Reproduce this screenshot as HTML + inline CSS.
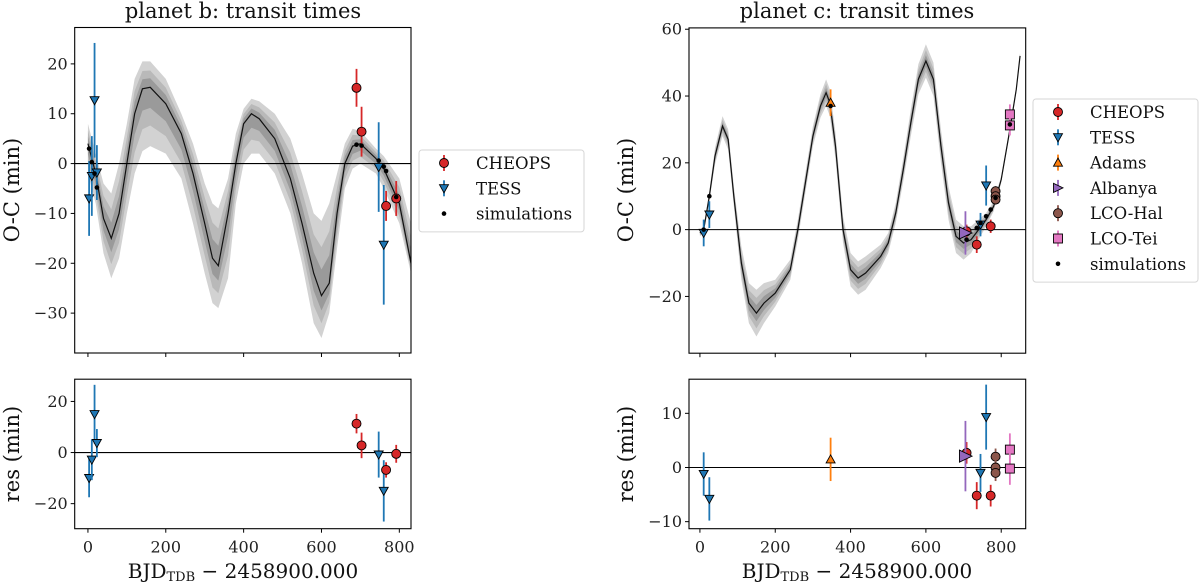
<!DOCTYPE html>
<html><head><meta charset="utf-8"><style>
html,body{margin:0;padding:0;background:#fff;}
svg{display:block;font-family:"DejaVu Serif","Liberation Serif",serif;}
</style></head><body>
<svg id="fig" width="1200" height="583" viewBox="0 0 1200 583" xmlns="http://www.w3.org/2000/svg"></svg>
<script>
// ---------- planet b data ----------
const bModelX = [0,20,40,60,80,100,120,140,160,200,240,270,300,320,335,360,380,400,420,440,480,520,550,580,600,620,640,660,680,700,740,760,800,830];
const bModelY = [4,-2,-11,-15,-10,0,10,15,15.3,12,6,-2,-12,-19,-20.5,-10,0,8,10,9,5,-3,-12,-22,-26.5,-24,-10,0,3.5,4,1,-1,-8,-20];
const bBandLo = [-2,-8,-18,-23,-19,-10,-2,2.5,3.5,2,-3,-12,-22,-28,-29,-23,-8,0,2,2,-2,-10,-20,-32,-35,-30,-17,-5,-1,0,-2,-5,-12,-22];
const bBandHi = [8,2,-4,-6,0,8,17,20.5,20.5,17,10,4,-4,-8,-9,-3,6,11,13,12.5,10,5,-2,-10,-11.5,-8,-2,4,7,6.5,3,1.5,-3,-12];
const bTessX = [3,10,17,23,747,760];
const bTessY = [-7,-2.5,12.7,-1.8,-0.7,-16.3];
const bTessE = [7.5,8,11.5,5.5,9,12];
const bTessRes = [-10,-2.8,15,3.7,-0.8,-15];
const bCheopsX = [690,703,766,792];
const bCheopsY = [15.2,6.4,-8.5,-7];
const bCheopsE = [3.8,5,3,3.5];
const bCheopsRes = [11.3,2.8,-6.8,-0.5];
const bSimX = [3,10,17,23,690,703,747,760,766,792];
const bSimY = [3,0.3,-2,-4.8,3.8,3.6,0.6,-0.6,-1.5,-6.7];
const bMainTicks = [20,10,0,-10,-20,-30];
const bResTicks = [20,0,-20];
// ---------- planet c data ----------
const cModelX = [0,10,25,40,60,75,90,100,110,130,150,170,200,240,260,280,300,320,335,345,360,380,400,420,440,480,500,520,540,560,580,600,620,640,660,680,700,720,740,760,780,800,820,840,850];
const cModelY = [-1,0,10,22,31,27,10,0,-10,-22,-25,-22,-19,-12,0,14,28,37,41,38,25,0,-12,-14.5,-13,-8,-4,5,18,32,45,50.5,45,25,8,-2,-4,-3,0,3,7,15,28,42,52];
const cBandW = [1,1,1.5,2.5,3,3,3,4,5,6,7,6,4,3,3,3,3,3.5,4,4,4,4,5,5,5,3.5,3,3,3.5,4,4.5,5,5,5,5,5,5,4,3,2,1.5,1,1,1,1];
const cTessX = [10,25,745,760];
const cTessY = [-1,4.5,1.5,13.2];
const cTessE = [4,4,3.5,6];
const cTessRes = [-1.2,-5.8,-1,9.3];
const cCheopsX = [708,735,772];
const cCheopsY = [-0.5,-4.5,1];
const cCheopsE = [2,2.5,2];
const cCheopsRes = [2.7,-5.2,-5.2];
const cAdamsX = [347];
const cAdamsY = [38];
const cAdamsE = [4];
const cAdamsRes = [1.5];
const cAlbX = [705];
const cAlbY = [-1];
const cAlbE = [6.5];
const cAlbRes = [2.1];
const cHalX = [785,785,785];
const cHalY = [11.5,10,9];
const cHalE = [1.5,1.5,1.5];
const cHalRes = [2,0,-1];
const cTeiX = [823,823];
const cTeiY = [34.5,31.2];
const cTeiE = [3,3];
const cTeiRes = [3.3,-0.2];
const cSimX = [10,25,347,708,735,745,760,772,785,823];
const cSimY = [0,10,37,-3,0.5,2,4,6,9.5,31.5];
const cMainTicks = [60,40,20,0,-20];
const cResTicks = [10,0,-10];
const xTicks = [0,200,400,600,800];

const NS="http://www.w3.org/2000/svg";
const svg=document.getElementById('fig');
function mk(tag,attrs,parent){const e=document.createElementNS(NS,tag);for(const k in attrs)e.setAttribute(k,attrs[k]);(parent||svg).appendChild(e);return e;}
function axis(x0,x1,xmin,xmax,y0,y1,ymin,ymax){
  return {x:v=>x0+(v-xmin)/(xmax-xmin)*(x1-x0), y:v=>y1-(v-ymin)/(ymax-ymin)*(y1-y0), x0,x1,y0,y1};
}
const C={cheops:'#d62728',tess:'#1f77b4',adams:'#ff7f0e',alb:'#9467bd',hal:'#8c564b',tei:'#e377c2'};

function marker(g,type,cx,cy,col,s){
  let m;
  if(type==='o') m=mk('circle',{cx,cy,r:s,fill:col,stroke:'#000','stroke-width':0.9},g);
  else if(type==='v') m=mk('polygon',{points:`${cx-s},${cy-s*0.8} ${cx+s},${cy-s*0.8} ${cx},${cy+s}`,fill:col,stroke:'#000','stroke-width':0.9},g);
  else if(type==='^') m=mk('polygon',{points:`${cx-s},${cy+s*0.8} ${cx+s},${cy+s*0.8} ${cx},${cy-s}`,fill:col,stroke:'#000','stroke-width':0.9},g);
  else if(type==='>') m=mk('polygon',{points:`${cx-s},${cy-s} ${cx-s},${cy+s} ${cx+s*1.1},${cy}`,fill:col,stroke:'#000','stroke-width':0.9},g);
  else if(type==='s') m=mk('rect',{x:cx-s,y:cy-s,width:2*s,height:2*s,fill:col,stroke:'#000','stroke-width':0.9},g);
  return m;
}
function series(ax,name,type,col,xs,ys,es,size){
  const g=mk('g',{});
  
  
  for(let i=0;i<xs.length;i++){
    const cx=ax.x(xs[i]),cy=ax.y(ys[i]);
    const l=mk('line',{x1:cx,x2:cx,y1:ax.y(ys[i]+es[i]),y2:ax.y(ys[i]-es[i]),stroke:col,'stroke-width':1.8},g);
    
    
    const m=marker(g,type,cx,cy,col,size||4.5);
    
    
  }
}
function sims(ax,xs,ys){
  const g=mk('g',{});
  
  
  for(let i=0;i<xs.length;i++){
    const d=mk('circle',{cx:ax.x(xs[i]),cy:ax.y(ys[i]),r:2.3,fill:'#000'},g);
    
    
  }
}
function frame(ax,name,yticks,xlabels){
  const g=mk('g',{});
  
  
  mk('rect',{x:ax.x0,y:ax.y0,width:ax.x1-ax.x0,height:ax.y1-ax.y0,fill:'none',stroke:'#000','stroke-width':1.1},g);
  yticks.forEach(t=>{
    const y=ax.y(t);
    mk('line',{x1:ax.x0-4,x2:ax.x0,y1:y,y2:y,stroke:'#000','stroke-width':1},g);
    const tx=mk('text',{x:ax.x0-7,y:y+5.5,'text-anchor':'end','font-size':16,fill:'#222'},g);
    tx.textContent=(t<0?'\u2212'+(-t):t);
    
    
  });
  xTicks.forEach(t=>{
    const x=ax.x(t);
    mk('line',{x1:x,x2:x,y1:ax.y1,y2:ax.y1+4,stroke:'#000','stroke-width':1},g);
    if(xlabels){
      const tx=mk('text',{x:x,y:ax.y1+24,'text-anchor':'middle','font-size':16,fill:'#222'},g);
      tx.textContent=t;
      
      
    }
  });
}
function zeroLine(ax){
  const l=mk('line',{x1:ax.x0,x2:ax.x1,y1:ax.y(0),y2:ax.y(0),stroke:'#000','stroke-width':1.1});
  
  
}
function clip(ax,id){
  const cp=mk('clipPath',{id});
  mk('rect',{x:ax.x0,y:ax.y0,width:ax.x1-ax.x0,height:ax.y1-ax.y0},cp);
}
function band(ax,xs,lo,hi,fill,name,clipId){
  let d='M'+xs.map((v,i)=>ax.x(v)+','+ax.y(hi[i])).join('L');
  for(let i=xs.length-1;i>=0;i--) d+='L'+ax.x(xs[i])+','+ax.y(lo[i]);
  const p=mk('path',{d:d+'Z',fill,'clip-path':`url(#${clipId})`});
  
  
}
function line(ax,xs,ys,clipId){
  const p=mk('path',{d:'M'+xs.map((v,i)=>ax.x(v)+','+ax.y(ys[i])).join('L'),fill:'none',stroke:'#111','stroke-width':1.2,'clip-path':`url(#${clipId})`});
  
  
}
function bands(ax,xs,my,lo,hi,clipId){
  const f=[1,0.65,0.35],cols=['#d2d2d2','#b9b9b9','#9a9a9a'];
  f.forEach((k,j)=>{
    band(ax,xs,my.map((m,i)=>m+k*(lo[i]-m)),my.map((m,i)=>m+k*(hi[i]-m)),cols[j],'model-band-'+(j+1),clipId);
  });
}
function txt(x,y,s,size,name,anchor,rot){
  const t=mk('text',{x,y,'font-size':size,'text-anchor':anchor||'middle',fill:'#111'});
  if(rot) t.setAttribute('transform',`rotate(-90 ${x} ${y})`);
  t.textContent=s;
  
  
  return t;
}
function xlabel(cx){
  const t=mk('text',{x:cx,y:578,'font-size':20,'text-anchor':'middle',fill:'#111'});
  
  
  const a=mk('tspan',{},t);a.textContent='BJD';
  const b=mk('tspan',{'font-size':13,dy:3},t);b.textContent='TDB';
  const c=mk('tspan',{dy:-3},t);c.textContent=' \u2212 2458900.000';
}
function legend(x,y,w,items,name){
  const g=mk('g',{});
  
  
  const h=items.length*25.3+6;
  mk('rect',{x,y,width:w,height:h,rx:3,fill:'#fff',stroke:'#d6d6d6','stroke-width':1},g);
  items.forEach((it,i)=>{
    const cy=y+13+i*25.3;
    const cx=x+25;
    const e=mk('g',{},g);
    
    
    if(it[1]==='dot') mk('circle',{cx,cy,r:2.3,fill:'#000'},e);
    else{ mk('line',{x1:cx,x2:cx,y1:cy-8,y2:cy+8,stroke:it[2],'stroke-width':1.8},e); marker(e,it[1],cx,cy,it[2],4.5);}
    const t=mk('text',{x:x+57,y:cy+6,'font-size':16.5,fill:'#111'},e);t.textContent=it[0];
  });
}

// ---------- planet b ----------
const bM=axis(74.7,411,-34,830,27.5,353,-38,27.3);
const bR=axis(74.7,411,-34,830,379.2,528.7,-29.8,28.7);
clip(bM,'cbm');clip(bR,'cbr');
bands(bM,bModelX,bModelY,bBandLo,bBandHi,'cbm');
line(bM,bModelX,bModelY,'cbm');
zeroLine(bM);
series(bM,'b-tess','v',C.tess,bTessX,bTessY,bTessE);
series(bM,'b-cheops','o',C.cheops,bCheopsX,bCheopsY,bCheopsE);
sims(bM,bSimX,bSimY);
frame(bM,'b-main-axes',bMainTicks,false);
zeroLine(bR);
series(bR,'b-tess-res','v',C.tess,bTessX,bTessRes,bTessE);
series(bR,'b-cheops-res','o',C.cheops,bCheopsX,bCheopsRes,bCheopsE);
frame(bR,'b-res-axes',bResTicks,true);
txt(243,18,'planet b: transit times',21,'b-title');
txt(19,190,'O-C (min)',21,'b-y-axis-title','middle',true);
txt(19,454,'res (min)',21,'b-res-y-axis-title','middle',true);
xlabel(243);
legend(419,150,165,[['CHEOPS','o',C.cheops],['TESS','v',C.tess],['simulations','dot']],'b-legend');

// ---------- planet c ----------
const cM=axis(689,1025.7,-29,865,27.9,353.2,-37,60.4);
const cR=axis(689,1025.7,-29,865,379.2,528.7,-11.3,16.3);
clip(cM,'ccm');clip(cR,'ccr');
bands(cM,cModelX,cModelY,cModelY.map((m,i)=>m-cBandW[i]),cModelY.map((m,i)=>m+cBandW[i]),'ccm');
line(cM,cModelX,cModelY,'ccm');
zeroLine(cM);
series(cM,'c-cheops','o',C.cheops,cCheopsX,cCheopsY,cCheopsE);
series(cM,'c-tess','v',C.tess,cTessX,cTessY,cTessE);
series(cM,'c-adams','^',C.adams,cAdamsX,cAdamsY,cAdamsE);
series(cM,'c-albanya','>',C.alb,cAlbX,cAlbY,cAlbE,6);
series(cM,'c-lco-hal','o',C.hal,cHalX,cHalY,cHalE);
series(cM,'c-lco-tei','s',C.tei,cTeiX,cTeiY,cTeiE);
sims(cM,cSimX,cSimY);
frame(cM,'c-main-axes',cMainTicks,false);
zeroLine(cR);
series(cR,'c-cheops-res','o',C.cheops,cCheopsX,cCheopsRes,cCheopsE);
series(cR,'c-tess-res','v',C.tess,cTessX,cTessRes,cTessE);
series(cR,'c-adams-res','^',C.adams,cAdamsX,cAdamsRes,cAdamsE);
series(cR,'c-albanya-res','>',C.alb,cAlbX,cAlbRes,cAlbE,6);
series(cR,'c-lco-hal-res','o',C.hal,cHalX,cHalRes,cHalE);
series(cR,'c-lco-tei-res','s',C.tei,cTeiX,cTeiRes,cTeiE);
frame(cR,'c-res-axes',cResTicks,true);
txt(857,18,'planet c: transit times',21,'c-title');
txt(633,190,'O-C (min)',21,'c-y-axis-title','middle',true);
txt(633,454,'res (min)',21,'c-res-y-axis-title','middle',true);
xlabel(857);
legend(1033,99,165,[['CHEOPS','o',C.cheops],['TESS','v',C.tess],['Adams','^',C.adams],['Albanya','>',C.alb],['LCO-Hal','o',C.hal],['LCO-Tei','s',C.tei],['simulations','dot']],'c-legend');
</script>
</body></html>
